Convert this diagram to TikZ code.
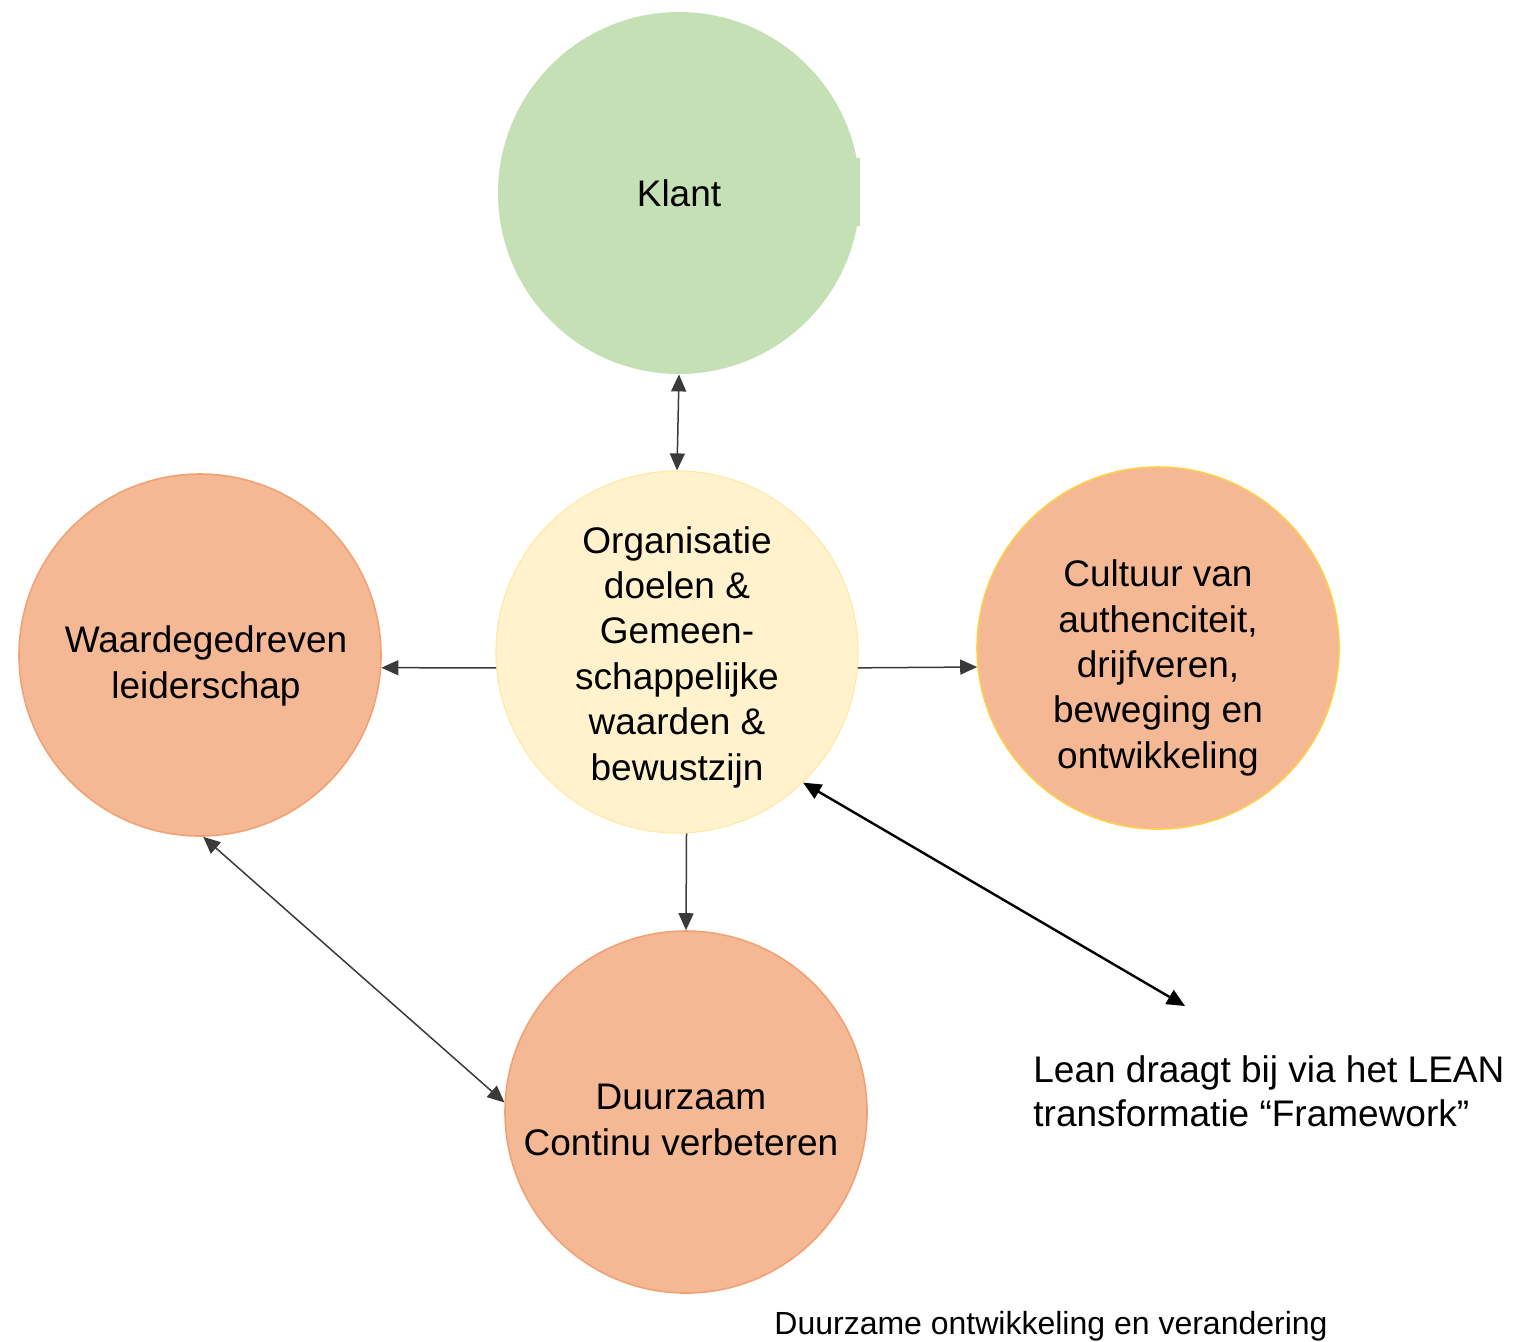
\documentclass[tikz,border=0pt]{standalone}
\usepackage{fontspec}
\setmainfont{Liberation Sans}
\usetikzlibrary{arrows.meta}
\definecolor{klantgreen}{HTML}{C5E0B4}
\definecolor{orgfill}{HTML}{FFF2CC}
\definecolor{orgdraw}{HTML}{FFE9A8}
\definecolor{orfill}{HTML}{F4B994}
\definecolor{ordraw}{HTML}{F2A272}
\definecolor{golddraw}{HTML}{FFCF4A}
\definecolor{linegray}{HTML}{3A3A3A}
\tikzset{
  bubble/.style={circle, inner sep=0pt, minimum size=181pt},
  bubbletext/.style={inner sep=0pt, align=center, font=\fontsize{18.5}{22.7}\selectfont},
  conn/.style={draw=linegray, line width=0.75pt, -{Triangle[length=8.5pt,width=7.5pt]}},
  bothconn/.style={draw=linegray, line width=0.75pt, {Triangle[length=8.5pt,width=7.5pt]}-{Triangle[length=8.5pt,width=7.5pt]}},
  thickconn/.style={draw=black, line width=1.2pt, {Triangle[length=9pt,width=8pt]}-{Triangle[length=9pt,width=8pt]}},
}
\begin{document}
\begin{tikzpicture}[x=0.5pt, y=-0.5pt]
\useasboundingbox (0,0) rectangle (1513,1341);
% Klant
\fill[klantgreen] (845,158) rectangle (860,226);
\node[bubble, fill=klantgreen] (klant) at (679,193) {};
\node[bubbletext] (klanttext) at (679,193) {Klant};
% Organisatie
\node[bubble, fill=orgfill, draw=orgdraw, line width=0.6pt] (org) at (677,652) {};
\node[bubbletext] (orgtext) at (677,657)
  {Organisatie\\doelen \&\\Gemeen-\\schappelijke\\waarden \&\\bewustzijn};
% Waardegedreven
\node[bubble, fill=orfill, draw=ordraw, line width=0.8pt] (waard) at (200,655) {};
\node[bubbletext] (waardtext) at (206,666) {Waardegedreven\\leiderschap};
% Cultuur
\node[bubble, fill=orfill, draw=golddraw, line width=0.8pt] (cult) at (1158,648) {};
\node[bubbletext] (culttext) at (1158,668)
  {Cultuur van\\authenciteit,\\drijfveren,\\beweging en\\ontwikkeling};
% Duurzaam
\node[bubble, fill=orfill, draw=ordraw, line width=0.8pt] (duur) at (686,1112) {};
\node[bubbletext] (duurtext) at (681,1120) {Duurzaam\\Continu verbeteren};
% free end of thick arrow
\coordinate (leanpt) at (1185,1006);
% texts
\node[anchor=west, align=left, inner sep=0pt, font=\fontsize{18.5}{22.2}\selectfont] (lean) at (1033,1091)
  {Lean draagt bij via het LEAN\\transformatie “Framework”};
\node[inner sep=0pt, font=\fontsize{16}{19}\selectfont] (bottom) at (1051,1326)
  {Duurzame ontwikkeling en verandering};
% connectors
\draw[bothconn] (klant.south) -- (org.north);
\draw[conn] (org.185) -- (waard.-4);
\draw[conn] (org.-5) -- (cult.186);
\draw[conn] (org.-87) -- (duur.north);
\draw[bothconn] (waard.-89) -- (duur.177.5);
\draw[thickconn] (org.-46) -- (leanpt);
\end{tikzpicture}
\end{document}
